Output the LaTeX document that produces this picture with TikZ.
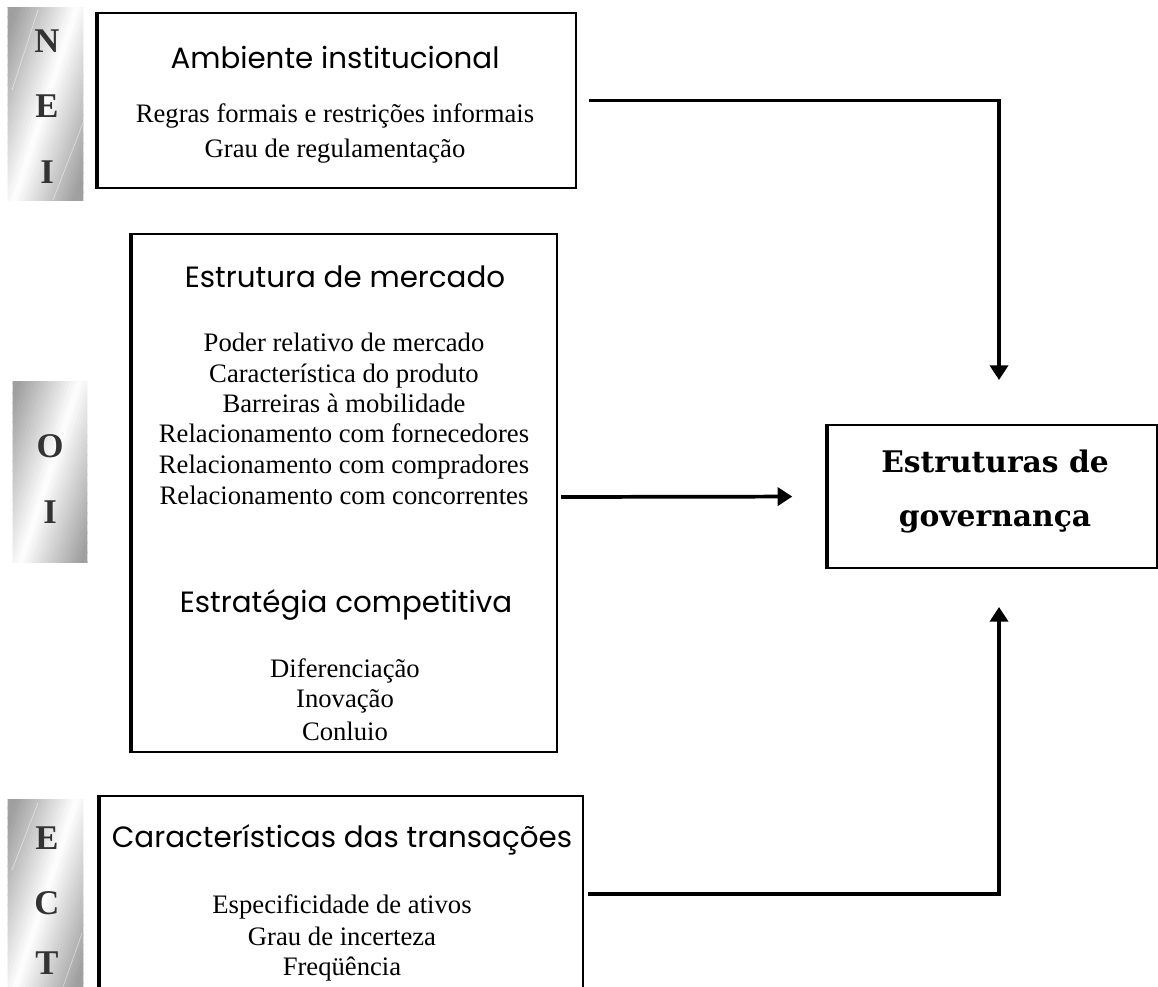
\documentclass[tikz,border=0pt]{standalone}
\usepackage{fontspec}
\setmainfont{Liberation Serif}
\newfontfamily\headfont{Poppins}
\newfontfamily\govfont{DejaVu Serif}
\usetikzlibrary{arrows.meta,calc}

\tikzset{
  frame/.style={draw=black, line width=1.5pt, fill=white, inner sep=0pt},
  sidebar/.style={inner sep=0pt},
  sideletter/.style={anchor=base, text=black!80,
    font=\bfseries\fontsize{26}{26}\selectfont},
  body/.style={anchor=base, font=\fontsize{20}{23}\selectfont},
  head/.style={anchor=base, font=\headfont\fontsize{22}{26}\selectfont},
  govtext/.style={anchor=base, font=\govfont\bfseries\fontsize{22.3}{26}\selectfont},
  conn/.style={line width=2.8pt, -{Triangle[length=11pt,width=13.5pt]}},
  streak/.style={draw=white, line width=0.5pt, opacity=0.5}
}

% metallic grey band with a slanted white highlight, built from thin strips
\newcommand\metalbar[1]{%
  \begin{scope}
    \clip (#1.south west) rectangle (#1.north east);
    \begin{scope}[transform canvas={rotate around={-18:(#1.center)}}]
      \foreach \i in {0,...,47}{%
        \pgfmathsetmacro\dd{abs((\i+0.5)/48-0.5)*2}%
        \pgfmathsetmacro\pp{min(75,95*\dd)}%
        \fill[gray!\pp] ($(#1.center)+(-72+3*\i,-170)$) rectangle ++(3.4,340);
      }
    \end{scope}
  \end{scope}}

\begin{document}
\begin{tikzpicture}[x=0.75pt, y=-0.75pt]
\useasboundingbox (0,0) rectangle (1158,987);

% shaded side labels
\node[sidebar, minimum width=56.25pt, minimum height=144pt] (nei) at (45.5,104) {};
\node[sidebar, minimum width=55.5pt, minimum height=135pt] (oi) at (50,472) {};
\node[sidebar, minimum width=56.25pt, minimum height=142.5pt] (ect) at (45.5,895) {};
\metalbar{nei}
\metalbar{oi}
\metalbar{ect}
\draw[streak] (38,10) -- (12,90);
\draw[streak] (83,123) -- (53,200);
\draw[streak] (38,803) -- (12,870);
\draw[streak] (82,933) -- (63,987);

\node[sideletter] (n1) at (47,53) {N};
\node[sideletter] (n2) at (47,118) {E};
\node[sideletter] (n3) at (47,184) {I};
\node[sideletter] (o1) at (50,458) {O};
\node[sideletter] (o2) at (50,524) {I};
\node[sideletter] (e1) at (47,849) {E};
\node[sideletter] (e2) at (47,914) {C};
\node[sideletter] (e3) at (47,974) {T};

% boxes
\node[frame, minimum width=358.5pt, minimum height=131.25pt] (amb) at (337,100.5) {};
\node[frame, minimum width=318.75pt, minimum height=388.5pt] (mkt) at (344.5,493) {};
\node[frame, minimum width=246.75pt, minimum height=107.25pt] (gov) at (992.5,496.5) {};
\node[frame, minimum width=362.25pt, minimum height=147pt] (trn) at (341.5,894) {};
\foreach \b in {amb,mkt,gov,trn}
  \draw[line width=2.6pt] (\b.north west) -- (\b.south west);

% institutional environment
\node[head] (ambT) at (335,69) {Ambiente institucional};
\node[body] (amb1) at (335,123) {Regras formais e restrições informais};
\node[body] (amb2) at (335,158) {Grau de regulamentação};

% market structure and strategy
\node[head] (mktT) at (345,288) {Estrutura de mercado};
\node[body] (m1) at (344,352) {Poder relativo de mercado};
\node[body] (m2) at (344,383) {Característica do produto};
\node[body] (m3) at (344,413) {Barreiras à mobilidade};
\node[body] (m4) at (344,443) {Relacionamento com fornecedores};
\node[body] (m5) at (344,474) {Relacionamento com compradores};
\node[body] (m6) at (344,505) {Relacionamento com concorrentes};
\node[head] (strT) at (346,613) {Estratégia competitiva};
\node[body] (s1) at (345,678) {Diferenciação};
\node[body] (s2) at (345,707) {Inovação};
\node[body] (s3) at (345,740) {Conluio};

% governance
\node[govtext] (g1) at (995,473) {Estruturas de};
\node[govtext] (g2) at (995,527) {governança};

% transactions
\node[head] (trnT) at (342,847) {Características das transações};
\node[body] (t1) at (342,913) {Especificidade de ativos};
\node[body] (t2) at (342,945) {Grau de incerteza};
\node[body] (t3) at (342,975) {Freqüência};

% connectors
\draw[conn, shorten <=9pt, shorten >=33pt] (amb.east) -| ([xshift=4.9pt]gov.north);
\draw[conn, shorten >=26pt] ([shift={(3,4)}]mkt.east) -- (gov.west);
\draw[conn, shorten <=3pt, shorten >=28.5pt] (trn.east) -| ([xshift=4.9pt]gov.south);
\end{tikzpicture}
\end{document}
